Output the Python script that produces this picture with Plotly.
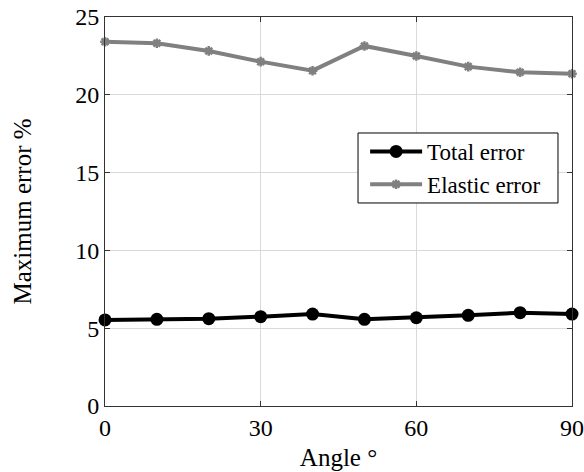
import plotly.graph_objects as go

angles = [0, 10, 20, 30, 40, 50, 60, 70, 80, 90]
total_error = [5.53, 5.57, 5.61, 5.74, 5.91, 5.57, 5.67, 5.83, 6.0, 5.91]
elastic_error = [23.41, 23.31, 22.82, 22.13, 21.55, 23.14, 22.49, 21.81, 21.45, 21.35]
x_ticks = [0, 30, 60, 90]
y_ticks = [0, 5, 10, 15, 20, 25]
series_names = ["Total error", "Elastic error"]

FONT = "Liberation Serif"
TICK_SIZE = 24
LABEL_SIZE = 25
LEGEND_SIZE = 23

fig = go.Figure()
fig.add_trace(go.Scatter(
    x=angles, y=total_error, name=series_names[0], mode="lines+markers",
    line=dict(color="black", width=4),
    marker=dict(symbol="circle", size=13, color="black"),
    cliponaxis=False,
))
fig.add_trace(go.Scatter(
    x=angles, y=elastic_error, name=series_names[1], mode="lines+markers",
    line=dict(color="#808080", width=4),
    marker=dict(symbol="asterisk", size=8, color="#808080",
                line=dict(color="#808080", width=2.5)),
    cliponaxis=False,
))

axis_common = dict(
    showline=True, linecolor="#333333", linewidth=1, mirror="allticks",
    ticks="inside", ticklen=5, tickcolor="#333333", tickwidth=1,
    showgrid=True, gridcolor="#d9d9d9", gridwidth=1,
    zeroline=False,
    tickfont=dict(family=FONT, size=TICK_SIZE, color="black"),
)

fig.update_xaxes(range=[0, 90], tickvals=x_ticks, ticktext=[str(v) for v in x_ticks],
                 title=dict(text="Angle °", font=dict(family=FONT, size=LABEL_SIZE, color="black"), standoff=8),
                 **axis_common)
fig.update_yaxes(range=[0, 25], tickvals=y_ticks, ticktext=[str(v) for v in y_ticks],
                 title=dict(text="Maximum error %", font=dict(family=FONT, size=LABEL_SIZE, color="black"), standoff=36),
                 **axis_common)

# legend frame
fig.add_shape(type="rect", xref="paper", yref="paper",
              x0=0.5418, x1=0.970, y0=0.5219, y1=0.7018,
              line=dict(color="black", width=1), fillcolor="white", layer="above")

fig.update_layout(
    width=584, height=472,
    margin=dict(l=105, r=12, t=17, b=66, autoexpand=False),
    paper_bgcolor="white", plot_bgcolor="white",
    font=dict(family=FONT, size=LABEL_SIZE, color="black"),
    legend=dict(x=0.557, y=0.612, xanchor="left", yanchor="middle",
                borderwidth=0, bgcolor="rgba(0,0,0,0)",
                font=dict(family=FONT, size=LEGEND_SIZE, color="black"),
                itemwidth=52, tracegroupgap=0),
    showlegend=True,
)

post = ("document.body.style.margin='0';"
        "var s=document.createElement('style');"
        "s.textContent='.modebar-container{display:none !important}';"
        "document.head.appendChild(s);")
fig.write_html("out.html", post_script=post)
